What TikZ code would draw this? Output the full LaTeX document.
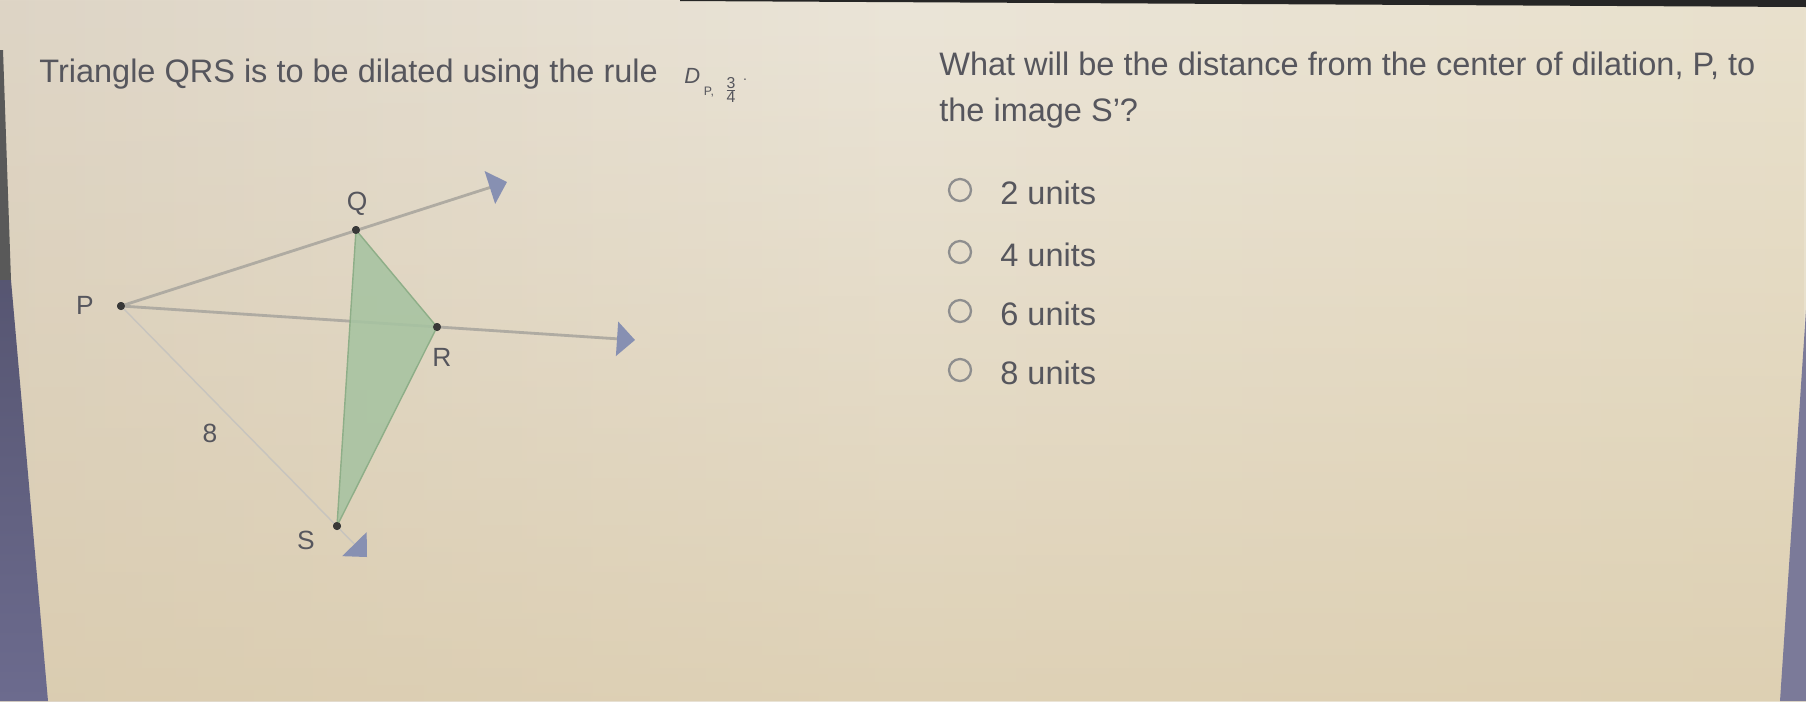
\documentclass[tikz,border=0pt]{standalone}
\usepackage{fontspec}
\setmainfont{Liberation Sans}
\usepackage{xcolor}
\usetikzlibrary{arrows.meta,positioning,fadings}

\definecolor{fondoL}{HTML}{DED5C6}
\definecolor{fondoM}{HTML}{EBE5D8}
\definecolor{fondoR}{HTML}{E9E1CD}
\definecolor{fondoB}{HTML}{D9C9A8}
\definecolor{borde}{HTML}{6C6B8E}
\definecolor{gristexto}{HTML}{56565D}
\definecolor{grisrayo}{HTML}{AFABA2}
\definecolor{grispunta}{HTML}{8790B2}
\definecolor{verde}{HTML}{A7C3A1}
\definecolor{verdeO}{HTML}{8EAE88}
\definecolor{grispunto}{HTML}{383838}
\definecolor{grisradio}{HTML}{8E8E8E}

\begin{document}
\begin{tikzpicture}[x=0.02cm, y=-0.02cm]
  \tikzstyle{texto}=[text=gristexto, font=\fontsize{18.5}{22}\selectfont, inner sep=0pt]
  \tikzstyle{etiqueta}=[text=gristexto, font=\fontsize{15}{18}\selectfont, inner sep=0pt]
  \tikzstyle{vertice}=[circle, fill=grispunto, inner sep=0pt, minimum size=0.16cm]
  \tikzstyle{rayo}=[draw=grisrayo, line width=1.6pt, -{Triangle[length=0.36cm, width=0.68cm, color=grispunta]}]
  \tikzstyle{opcion}=[circle, draw=grisradio, line width=1.3pt, minimum size=0.44cm, inner sep=0pt]

  % Fondo
  \useasboundingbox (0,0) rectangle (1806,701);
  \shade[left color=fondoL, right color=fondoR, middle color=fondoM] (0,0) rectangle (1806,701);
  \fill[fondoB, path fading=north, fill opacity=0.7] (0,0) rectangle (1806,701);
  \fill[black!65] (0,50) -- (3,50) -- (11,280) -- (0,280) -- cycle;
  \shade[top color=borde!80!black, bottom color=borde] (0,280) -- (11,280) -- (48,701) -- (0,701) -- cycle;
  \fill[borde!90!white] (1806,310) -- (1780,701) -- (1806,701) -- cycle;
  \fill[black!85] (680,0) -- (1806,0) -- (1806,7) -- (680,1) -- cycle;

  % Enunciado
  \node[texto, anchor=base west] (enunciado) at (39,82) {Triangle QRS is to be dilated using the rule};
  \node[texto, anchor=base west, font=\fontsize{12.5}{14}\selectfont\itshape] (regla) at (684,83) {D};
  \node[texto, font=\fontsize{7}{8}\selectfont] (sub) at (709,92) {P,};
  \node[texto, font=\fontsize{9}{10}\selectfont] (frac) at (731,90) {\(\frac{\mbox{\fontsize{9}{10}\selectfont 3}}{\mbox{\fontsize{9}{10}\selectfont 4}}\)};
  \node[texto, font=\fontsize{8}{9}\selectfont] (punto) at (745,80) {.};

  \node[texto, anchor=base west] (pregunta) at (939,75) {What will be the distance from the center of dilation, P, to};
  \node[texto, anchor=base west] (pregunta2) at (939,121) {the image S'?};

  % Opciones
  \foreach \n/\y/\v in {1/190/2, 2/252/4, 3/311/6, 4/370/8} {
    \node[opcion] (op\n) at (960,\y) {};
    \node[texto, anchor=base west] (txt\n) at (1000,\y+14) {\v\ units};
  }

  % Figura
  \node[vertice] (P) at (121,306) {};
  \node[vertice] (Q) at (356,230) {};
  \node[vertice] (R) at (437,327) {};
  \node[vertice] (S) at (337,526) {};
  \coordinate (fQ) at (507,182);
  \coordinate (fR) at (635,340);
  \coordinate (fS) at (367,557);

  \draw[rayo] (P.center) -- (fQ);
  \draw[rayo] (P.center) -- (fR);
  \draw[rayo, draw=grisrayo!70!white, line width=0.8pt] (P.center) -- (fS);

  \filldraw[fill=verde, draw=verdeO, line width=0.8pt, fill opacity=0.88] (Q.center) -- (R.center) -- (S.center) -- cycle;

  \node[vertice] at (P) {};
  \node[vertice] at (Q) {};
  \node[vertice] at (R) {};
  \node[vertice] at (S) {};

  \node[etiqueta] (lQ) at (357,204) {Q};
  \node[etiqueta] (lP) at (85,305) {P};
  \node[etiqueta] (lR) at (442,357) {R};
  \node[etiqueta] (lS) at (306,540) {S};
  \node[etiqueta] (l8) at (210,433) {8};
\end{tikzpicture}
\end{document}
